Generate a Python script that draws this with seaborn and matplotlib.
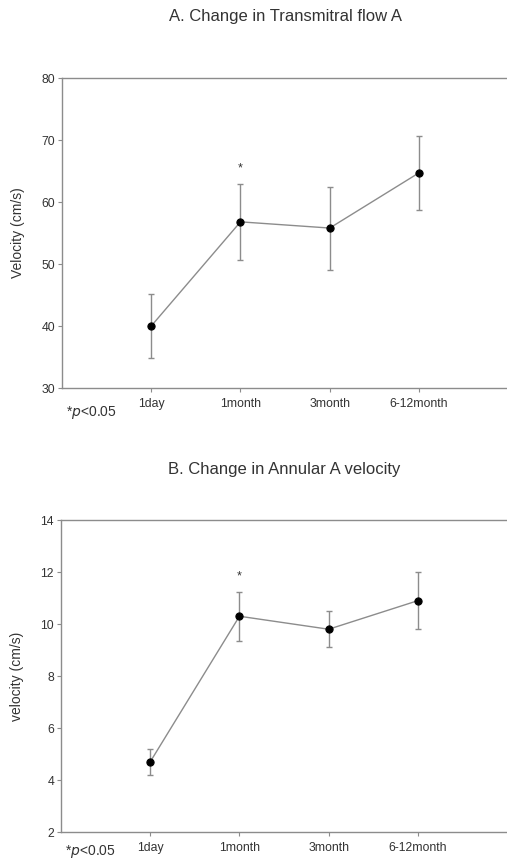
import matplotlib
matplotlib.use("Agg")
import matplotlib.pyplot as plt
import seaborn as sns
import pandas as pd

# time points
categories = ["1day", "1month", "3month", "6-12month"]

# A. transmitral flow A (cm/s)
flow_mean = [40.0, 56.8, 55.8, 64.7]
flow_err = [5.1, 6.1, 6.7, 6.0]

# B. annular A velocity (cm/s)
annular_mean = [4.7, 10.3, 9.8, 10.9]
annular_err = [0.5, 0.95, 0.7, 1.1]

sig_flags = [False, True, False, False]

sns.set_style("white")
plt.rcParams["font.family"] = ["Liberation Sans", "DejaVu Sans"]

GRAY = "#8c8c8c"
TXT = "#333333"


def draw_panel(ax, means, errs, title, ylabel, ylim, yticks, title_pad, note_y):
    df = pd.DataFrame({"pos": range(1, len(categories) + 1), "val": means})
    ax.errorbar(df["pos"], df["val"], yerr=errs, fmt="none", ecolor=GRAY,
                elinewidth=1.0, capsize=2.5, capthick=1.0, zorder=2)
    sns.lineplot(data=df, x="pos", y="val", ax=ax, color=GRAY, linewidth=1.0,
                 marker="o", markersize=5.2, markerfacecolor="black",
                 markeredgecolor="black", zorder=3)
    for i, flag in enumerate(sig_flags):
        if flag:
            ax.text(i + 1, means[i] + errs[i] + (ylim[1] - ylim[0]) * 0.03, "*",
                    ha="center", va="bottom", fontsize=9, color=TXT)

    ax.set_xlim(0, 5)
    ax.set_ylim(*ylim)
    ax.set_xticks(range(1, len(categories) + 1))
    ax.set_xticklabels(categories)
    ax.set_yticks(yticks)
    ax.set_xlabel("")
    ax.set_ylabel(ylabel, fontsize=10, color=TXT, labelpad=12)
    ax.set_title(title, fontsize=12, color=TXT, pad=title_pad)

    for side in ["left", "bottom", "top"]:
        ax.spines[side].set_color(GRAY)
        ax.spines[side].set_linewidth(1.0)
    ax.spines["right"].set_visible(False)
    ax.tick_params(axis="both", direction="out", length=3, width=0.8,
                   color=GRAY, labelsize=8.8, labelcolor=TXT, pad=2,
                   left=True, bottom=True)
    ax.tick_params(axis="x", pad=4)

    ax.text(0.008, note_y, r"*$\it{p}$<0.05", transform=ax.transAxes,
            fontsize=10, color=TXT, ha="left", va="center")


fig = plt.figure(figsize=(5.07, 8.63), dpi=100)
ax_a = fig.add_axes([0.1223, 0.5504, 0.88, 0.3592])
ax_b = fig.add_axes([0.1203, 0.0359, 0.88, 0.3615])

draw_panel(ax_a, flow_mean, flow_err, "A. Change in Transmitral flow A",
           "Velocity (cm/s)", (30, 80), [30, 40, 50, 60, 70, 80],
           title_pad=41, note_y=-0.078)
draw_panel(ax_b, annular_mean, annular_err, "B. Change in Annular A velocity",
           "velocity (cm/s)", (2, 14), [2, 4, 6, 8, 10, 12, 14],
           title_pad=33, note_y=-0.062)

fig.savefig("out.png", dpi=100)
